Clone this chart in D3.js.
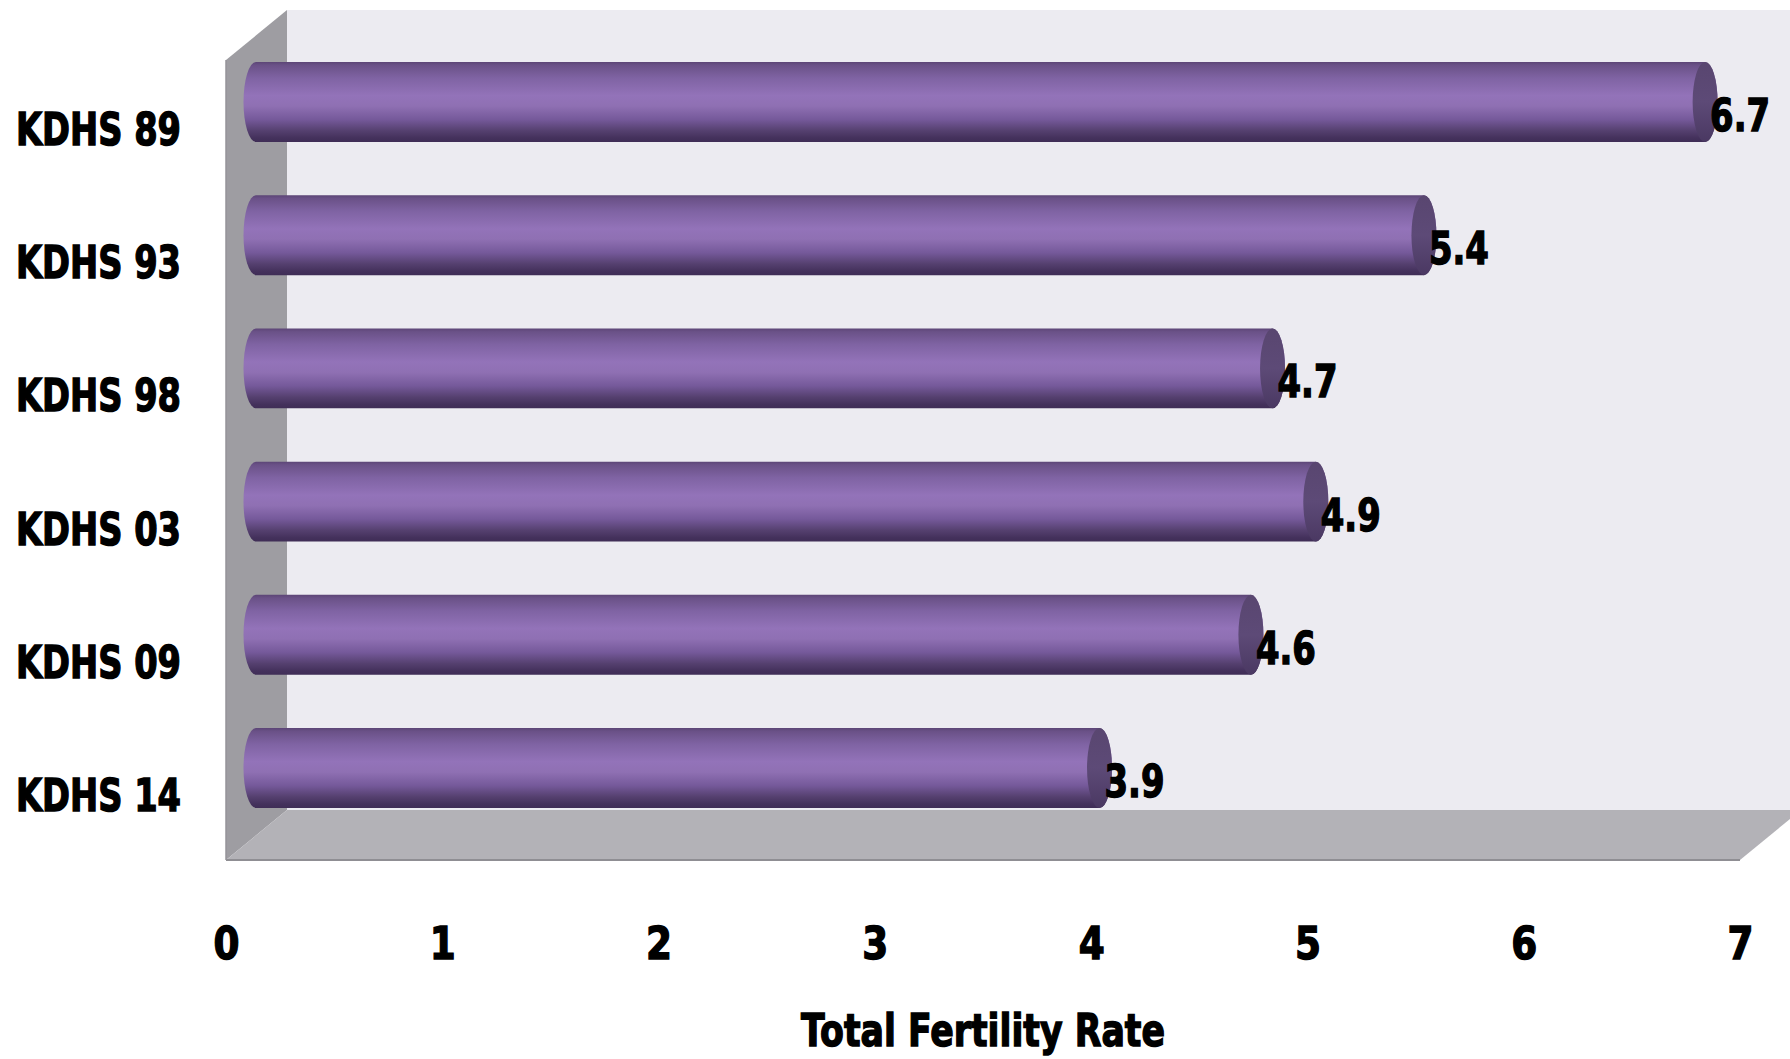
<!DOCTYPE html>
<html><head><meta charset="utf-8">
<script src="https://cdn.jsdelivr.net/npm/d3@7/dist/d3.min.js"></script>
<style>html,body{margin:0;padding:0;background:#fff}svg{display:block}
text{font-family:"DejaVu Sans",sans-serif;font-weight:700;fill:#000;stroke:#000}</style>
</head><body><svg id="c" width="1790" height="1059"></svg>
<script>
const categories = ["KDHS 89","KDHS 93","KDHS 98","KDHS 03","KDHS 09","KDHS 14"];
const fertilityRate = [6.7,5.4,4.7,4.9,4.6,3.9];
const xTicks = [0,1,2,3,4,5,6,7];
const axisTitle = "Total Fertility Rate";

const W=1790,H=1059;
const svg=d3.select("#c");
const x=d3.scaleLinear().domain([0,7]).range([226,1740]);
const y=d3.scaleBand().domain(categories).range([62,808]).paddingInner(0.4).paddingOuter(0).align(0);
const dx=61,dy=50,barShift=30,rx=12.5;
const wallTop=60,wallBottom=860;
const FONT='"DejaVu Sans",sans-serif';
const textStroke=1.5;

const defs=svg.append("defs");
const g=defs.append("linearGradient").attr("id","cyl").attr("x1",0).attr("x2",0).attr("y1",0).attr("y2",1);
[[0,"#5c4576"],[0.04,"#6a5187"],[0.2,"#7f63a3"],[0.42,"#9373b9"],[0.55,"#8f70b3"],[0.72,"#75599a"],[0.86,"#55406f"],[0.95,"#44315c"],[1,"#3f2d56"]]
 .forEach(s=>g.append("stop").attr("offset",s[0]).attr("stop-color",s[1]));
const cap=defs.append("linearGradient").attr("id","cap").attr("x1",0).attr("x2",0).attr("y1",0).attr("y2",1);
[[0,"#594670"],[0.5,"#5d4a77"],[1,"#4a3862"]].forEach(s=>cap.append("stop").attr("offset",s[0]).attr("stop-color",s[1]));

svg.append("polygon").attr("fill","#ecebf1")
 .attr("points",[[x(0)+dx,wallTop-dy],[W,wallTop-dy],[W,wallBottom-dy],[x(0)+dx,wallBottom-dy]].join(" "));
svg.append("polygon").attr("fill","#9e9da2")
 .attr("points",[[x(0),wallTop],[x(0)+dx,wallTop-dy],[x(0)+dx,wallBottom-dy],[x(0),wallBottom]].join(" "));
svg.append("polygon").attr("fill","#b3b2b7")
 .attr("points",[[x(0),wallBottom],[x(0)+dx,wallBottom-dy],[x(7)+dx,wallBottom-dy],[x(7),wallBottom]].join(" "));
svg.append("line").attr("x1",x(0)).attr("x2",x(7)).attr("y1",wallBottom).attr("y2",wallBottom).attr("stroke","#8f8e93").attr("stroke-width",2);
svg.append("line").attr("x1",x(0)).attr("x2",x(0)).attr("y1",wallTop).attr("y2",wallBottom).attr("stroke","#949398").attr("stroke-width",1.5);

const bars=svg.append("g").selectAll("g").data(categories).join("g");
const h=y.bandwidth();
bars.append("path").attr("fill","url(#cyl)").attr("d",(c,i)=>{
  const x0=x(0)+barShift,x1=x(fertilityRate[i])+barShift,t=y(c),b=t+h,r=h/2;
  return `M${x0},${t}L${x1},${t}A${rx},${r} 0 0 1 ${x1},${b}L${x0},${b}A${rx},${r} 0 0 1 ${x0},${t}Z`;
});
bars.append("ellipse").attr("fill","url(#cap)")
 .attr("cx",(c,i)=>x(fertilityRate[i])+barShift)
 .attr("cy",c=>y(c)+h/2).attr("rx",rx).attr("ry",h/2);

svg.append("g").selectAll("text").data(categories).join("text")
 .attr("x",(c,i)=>x(fertilityRate[i])+barShift+5)
 .attr("y",c=>y(c)+h/2+29)
 .attr("font-size",44).attr("stroke-width",textStroke)
 .attr("textLength",60).attr("lengthAdjust","spacingAndGlyphs")
 .text((c,i)=>fertilityRate[i].toFixed(1));

const xa=svg.append("g").attr("transform","translate(0,959)")
 .call(d3.axisBottom(x).tickValues(xTicks).tickSize(0).tickPadding(0).tickFormat(d3.format("d")));
xa.select(".domain").remove();
xa.selectAll("text").attr("font-size",45).attr("stroke-width",textStroke).attr("dy",0).attr("y",0)
 .attr("textLength",26).attr("lengthAdjust","spacingAndGlyphs")
 .style("font-family",FONT);

const ya=svg.append("g").attr("transform","translate(181,0)")
 .call(d3.axisLeft(y).tickSize(0).tickPadding(0));
ya.select(".domain").remove();
ya.selectAll("text").attr("font-size",45).attr("stroke-width",textStroke)
 .attr("dy",0).attr("text-anchor","start").attr("x",-165)
 .attr("y",43)
 .attr("textLength",165).attr("lengthAdjust","spacingAndGlyphs")
 .style("font-family",FONT);

svg.append("text").attr("x",801).attr("y",1046).attr("font-size",45).attr("stroke-width",textStroke)
 .attr("textLength",364).attr("lengthAdjust","spacingAndGlyphs").text(axisTitle);
</script></body></html>
